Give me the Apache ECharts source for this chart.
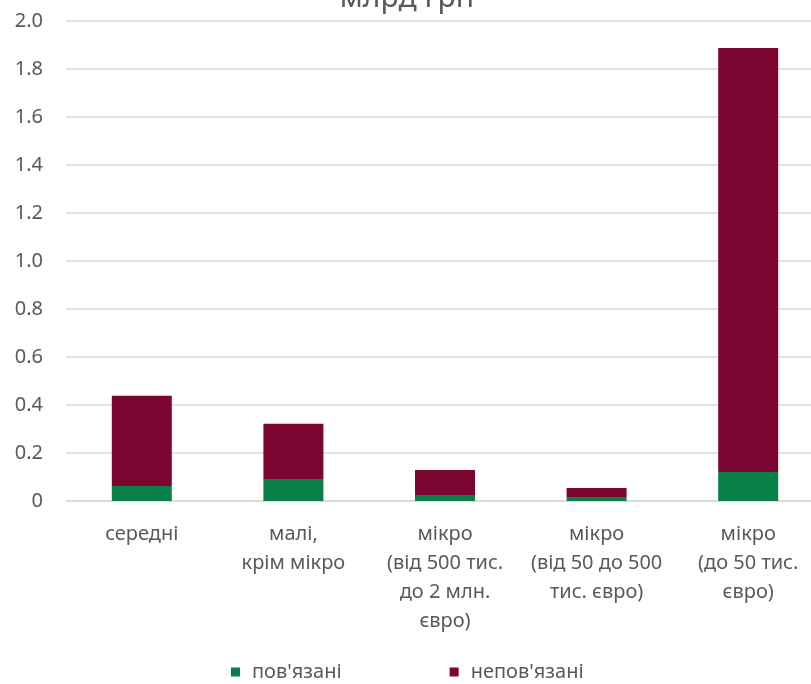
<!DOCTYPE html>
<html>
<head>
<meta charset="utf-8">
<script src="https://cdn.jsdelivr.net/npm/echarts@6/dist/echarts.min.js"></script>
<style>html,body{margin:0;padding:0;background:#fff}#c{width:811px;height:684px}</style>
</head>
<body>
<div id="c"></div>
<script>
const categories = ['середні', 'малі,\nкрім мікро', 'мікро\n(від 500 тис.\nдо 2 млн.\nєвро)', 'мікро\n(від 50 до 500\nтис. євро)', 'мікро\n(до 50 тис.\nєвро)'];
const related = [0.062, 0.089, 0.022, 0.014, 0.121];
const unrelated = [0.377, 0.233, 0.107, 0.040, 1.767];
const seriesNames = ["пов'язані", "непов'язані"];
const titleText = 'млрд грн';

const FONT = 'Noto Sans';
const TXT = '#595959';
const chart = echarts.init(document.getElementById('c'), null, {renderer: 'canvas'});
chart.setOption({
  animation: false,
  title: {text: titleText, left: 402, top: -22, textAlign: 'center',
    textStyle: {fontFamily: FONT, fontSize: 30, fontWeight: 'normal', color: TXT}},
  grid: {left: 66, width: 758, top: 21, height: 480, containLabel: false, outerBoundsMode: 'none'},
  legend: {left: 226, top: 657, itemWidth: 9, itemHeight: 9, itemGap: 108, icon: 'rect',
    textStyle: {fontFamily: FONT, fontSize: 20, color: TXT, padding: [0, 0, 0, 7]}, data: seriesNames},
  xAxis: {type: 'category', data: categories,
    axisLine: {lineStyle: {color: '#d9d9d9', width: 1.5}}, axisTick: {show: false},
    axisLabel: {interval: 0, margin: 19, fontFamily: FONT, fontSize: 20, lineHeight: 29, color: TXT}},
  yAxis: {type: 'value', min: 0, max: 2, interval: 0.2,
    axisLine: {show: false}, axisTick: {show: false},
    splitLine: {lineStyle: {color: '#d9d9d9', width: 1.5}},
    axisLabel: {margin: 23, fontFamily: FONT, fontSize: 20, color: TXT,
      formatter: v => v === 0 ? '0' : v.toFixed(1)}},
  series: [
    {name: seriesNames[0], type: 'bar', stack: 's', data: related, barWidth: 60, itemStyle: {color: '#077F47'}},
    {name: seriesNames[1], type: 'bar', stack: 's', data: unrelated, barWidth: 60, itemStyle: {color: '#7D0532'}}
  ]
});
</script>
</body>
</html>
